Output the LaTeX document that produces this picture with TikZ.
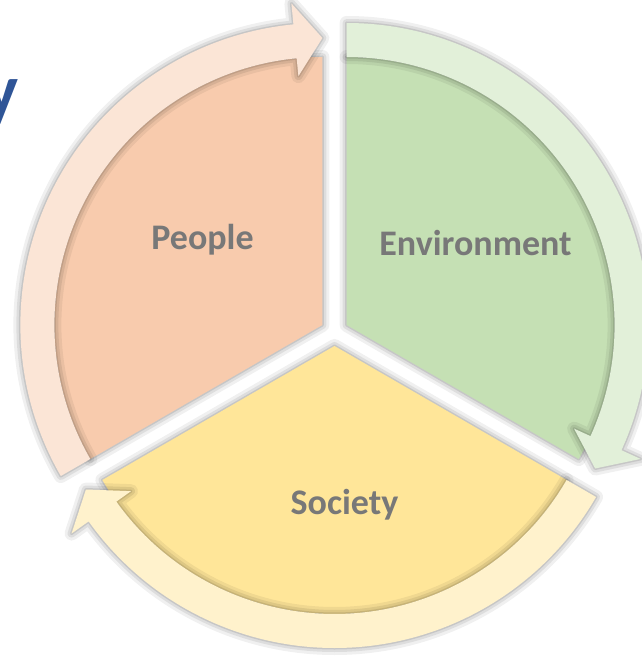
\documentclass[tikz,border=0pt]{standalone}
\usepackage{fontspec}
\setmainfont{Carlito}
\definecolor{peoplefill}{RGB}{248,203,173}
\definecolor{peoplearrow}{RGB}{251,229,214}
\definecolor{envfill}{RGB}{197,224,180}
\definecolor{envarrow}{RGB}{226,240,217}
\definecolor{socfill}{RGB}{255,230,153}
\definecolor{socarrow}{RGB}{255,242,204}
\definecolor{labelgray}{RGB}{120,120,120}
\definecolor{titleblue}{RGB}{47,85,151}

% ring arrow around a sector: fill, tail angle, tip angle
\newcommand{\ringarrow}[3]{%
  \fill[#1,halo] (#2:302) arc[start angle=#2,end angle={#3+5.5},radius=302]
    -- ({#3+5.5}:323) -- (#3:287) -- ({#3+5.5}:250) -- ({#3+5.5}:268)
    arc[start angle={#3+5.5},end angle=#2,radius=268] -- cycle;}

\begin{document}
\begin{tikzpicture}[x=1pt,y=1pt,
  halo/.style={preaction={draw=black,opacity=0.06,line width=14pt,line join=round},
    preaction={draw=black,opacity=0.08,line width=8pt,line join=round},
    preaction={draw=black,opacity=0.10,line width=3pt,line join=round}},
  sectorlabel/.style={text=labelgray,font=\bfseries\fontsize{36}{42}\selectfont,anchor=base,inner sep=0pt}]
\useasboundingbox (-334.5,-324) rectangle (306.5,332);

% cut title letter
\node[text=titleblue,font=\bfseries\fontsize{72}{80}\selectfont,anchor=base east,inner sep=0pt] (title) at (-315.5,217) {y};

% sectors
\begin{scope}[shift={(150:14)}]
  \fill[peoplefill,halo] (0,0) -- (90:268) arc[start angle=90,end angle=210,radius=268] -- cycle;
\end{scope}
\begin{scope}[shift={(30:14)}]
  \fill[envfill,halo] (0,0) -- (-30:268) arc[start angle=-30,end angle=90,radius=268] -- cycle;
\end{scope}
\begin{scope}[shift={(270:14)}]
  \fill[socfill,halo] (0,0) -- (210:268) arc[start angle=210,end angle=330,radius=268] -- cycle;
\end{scope}

% arrows
\begin{scope}[shift={(150:14)}]
  \ringarrow{peoplearrow}{210}{90}
\end{scope}
\begin{scope}[shift={(30:14)}]
  \ringarrow{envarrow}{90}{-30}
\end{scope}
\begin{scope}[shift={(270:14)}]
  \ringarrow{socarrow}{330}{210}
\end{scope}

\node[sectorlabel] (people) at (-132,82) {People};
\node[sectorlabel] (env) at (141,77) {Environment};
\node[sectorlabel] (society) at (10,-182) {Society};
\end{tikzpicture}
\end{document}
